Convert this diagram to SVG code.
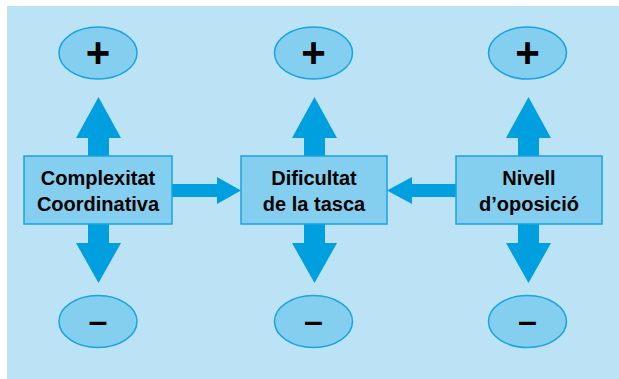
<svg xmlns="http://www.w3.org/2000/svg" width="619" height="379" viewBox="0 0 619 379">
<style>
.box{fill:#84CFEF;stroke:#1AA3DF;stroke-width:1.5}
.ell{fill:#84CFEF;stroke:#1AA3DF;stroke-width:1.5}
.arr{fill:#009FE0}
.lbl{font-family:"Liberation Sans",Arial,sans-serif;font-weight:bold;font-size:20px;fill:#000;text-anchor:middle}
.sign{font-family:"Liberation Sans",Arial,sans-serif;font-weight:bold;fill:#000;text-anchor:middle}
</style>
<rect x="7" y="6" width="612" height="373" fill="#BCE3F5"/>
<g id="connectors">
<polygon class="arr" points="88,157 88,138 76,138 98.5,97 121,138 109,138 109,157"/>
<polygon class="arr" points="304,157 304,138 292,138 314.5,97 337,138 325,138 325,157"/>
<polygon class="arr" points="518,157 518,138 506,138 528.5,97 551,138 539,138 539,157"/>
<polygon class="arr" points="88,223 88,243 76,243 98.5,283 121,243 109,243 109,223"/>
<polygon class="arr" points="304,223 304,243 292,243 314.5,283 337,243 325,243 325,223"/>
<polygon class="arr" points="518,223 518,243 506,243 528.5,283 551,243 539,243 539,223"/>
<polygon class="arr" points="172,184 217,184 217,177 241,190.5 217,204 217,197 172,197"/>
<polygon class="arr" points="456,184 412,184 412,177 387,190.5 412,204 412,197 456,197"/>
</g>
<g id="complexitat">
<rect class="box" x="24" y="156" width="148" height="68"/>
<text class="lbl" x="98" y="185">Complexitat</text>
<text class="lbl" x="98" y="211">Coordinativa</text>
</g>
<g id="dificultat">
<rect class="box" x="241" y="156" width="146" height="68"/>
<text class="lbl" x="314" y="185">Dificultat</text>
<text class="lbl" x="314" y="211">de la tasca</text>
</g>
<g id="nivell">
<rect class="box" x="456" y="156" width="146" height="68"/>
<text class="lbl" x="529" y="185">Nivell</text>
<text class="lbl" x="529" y="211">d’oposició</text>
</g>
<g id="plus1"><ellipse class="ell" cx="98" cy="53" rx="39" ry="26"/><text class="sign" x="98" y="67" font-size="42">+</text></g>
<g id="plus2"><ellipse class="ell" cx="313.5" cy="53" rx="39" ry="26"/><text class="sign" x="313.5" y="67" font-size="42">+</text></g>
<g id="plus3"><ellipse class="ell" cx="527.5" cy="53" rx="39" ry="26"/><text class="sign" x="527.5" y="67" font-size="42">+</text></g>
<g id="minus1"><ellipse class="ell" cx="98" cy="321.5" rx="39" ry="26"/><text class="sign" x="98" y="332" font-size="34">–</text></g>
<g id="minus2"><ellipse class="ell" cx="313.5" cy="321.5" rx="39" ry="26"/><text class="sign" x="313.5" y="332" font-size="34">–</text></g>
<g id="minus3"><ellipse class="ell" cx="527.5" cy="321.5" rx="39" ry="26"/><text class="sign" x="527.5" y="332" font-size="34">–</text></g>
</svg>
